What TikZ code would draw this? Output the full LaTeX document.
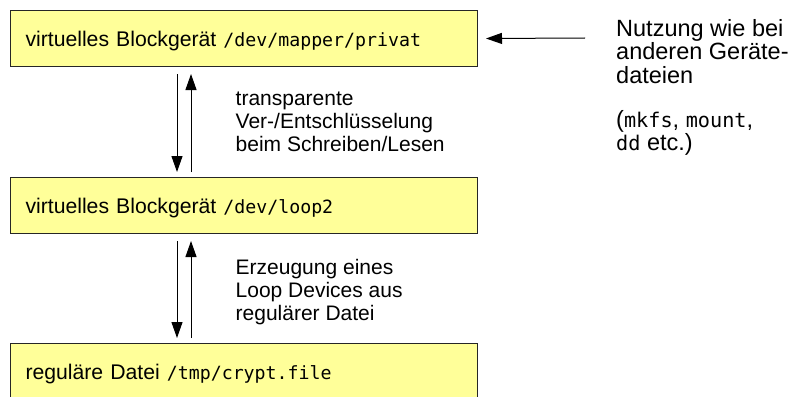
\documentclass[tikz,border=0pt]{standalone}
\usepackage{fontspec}
\setmainfont{Liberation Sans}
\setmonofont{DejaVu Sans Mono}[Scale=0.86]
\usepackage{xcolor}
\usepackage{tikz}
\usetikzlibrary{positioning, arrows.meta}
\definecolor{boxyellow}{HTML}{FFFF99}
\tikzstyle{device} = [rectangle, anchor=north west, minimum width=467pt, minimum height=56pt, text width=437pt, inner xsep=15pt, text depth=0pt, draw=black!85, line width=1pt, fill=boxyellow]
\tikzstyle{label} = [anchor=north west, align=left, inner sep=0pt, font=\fontsize{21pt}{23pt}\selectfont]
\tikzstyle{arrow} = [line width=1pt, ->, >={Triangle[length=16pt, width=11pt]}]

\begin{document}
\begin{tikzpicture}[x=1pt, y=-1pt, font=\fontsize{21.2pt}{23pt}\selectfont]

    \useasboundingbox (0,0) rectangle (794,396);
    \clip (0,0) rectangle (794,396);

    % Nodes
    \node (mapper) [device] at (10,10) {virtuelles Blockgerät \texttt{/dev/mapper/privat}};
    \node (loop) [device] at (10,177) {virtuelles Blockgerät \texttt{/dev/loop2}};
    \node (file) [device] at (10,343) {reguläre Datei \texttt{/tmp/crypt.file}};
    \node (cryptlabel) [label] at (235.5,92) {transparente\\Ver-/Entschlüsselung\\beim Schreiben/Lesen};
    \node (looplabel) [label] at (235.5,259) {Erzeugung eines\\Loop Devices aus\\regulärer Datei};
    \node (note) [label, font=\fontsize{23.5pt}{23.5pt}\selectfont] at (616,19) {Nutzung wie bei\\anderen Geräte-\\dateien\\[20.5pt]
        (\texttt{mkfs}, \texttt{mount},\\\texttt{dd} etc.)};
    \coordinate (usage) at (585,38);

    % Arrows
    \draw [arrow] ([xshift=167pt, yshift=-7pt]mapper.south west) -- ([xshift=167pt, yshift=5pt]loop.north west);
    \draw [arrow] ([xshift=181pt, yshift=5pt]loop.north west) -- ([xshift=181pt, yshift=-7pt]mapper.south west);
    \draw [arrow] ([xshift=167pt, yshift=-7pt]loop.south west) -- ([xshift=167pt, yshift=5pt]file.north west);
    \draw [arrow] ([xshift=181pt, yshift=5pt]file.north west) -- ([xshift=181pt, yshift=-7pt]loop.south west);
    \draw [arrow] (usage) -- ([xshift=8pt]mapper.east);

\end{tikzpicture}
\end{document}
